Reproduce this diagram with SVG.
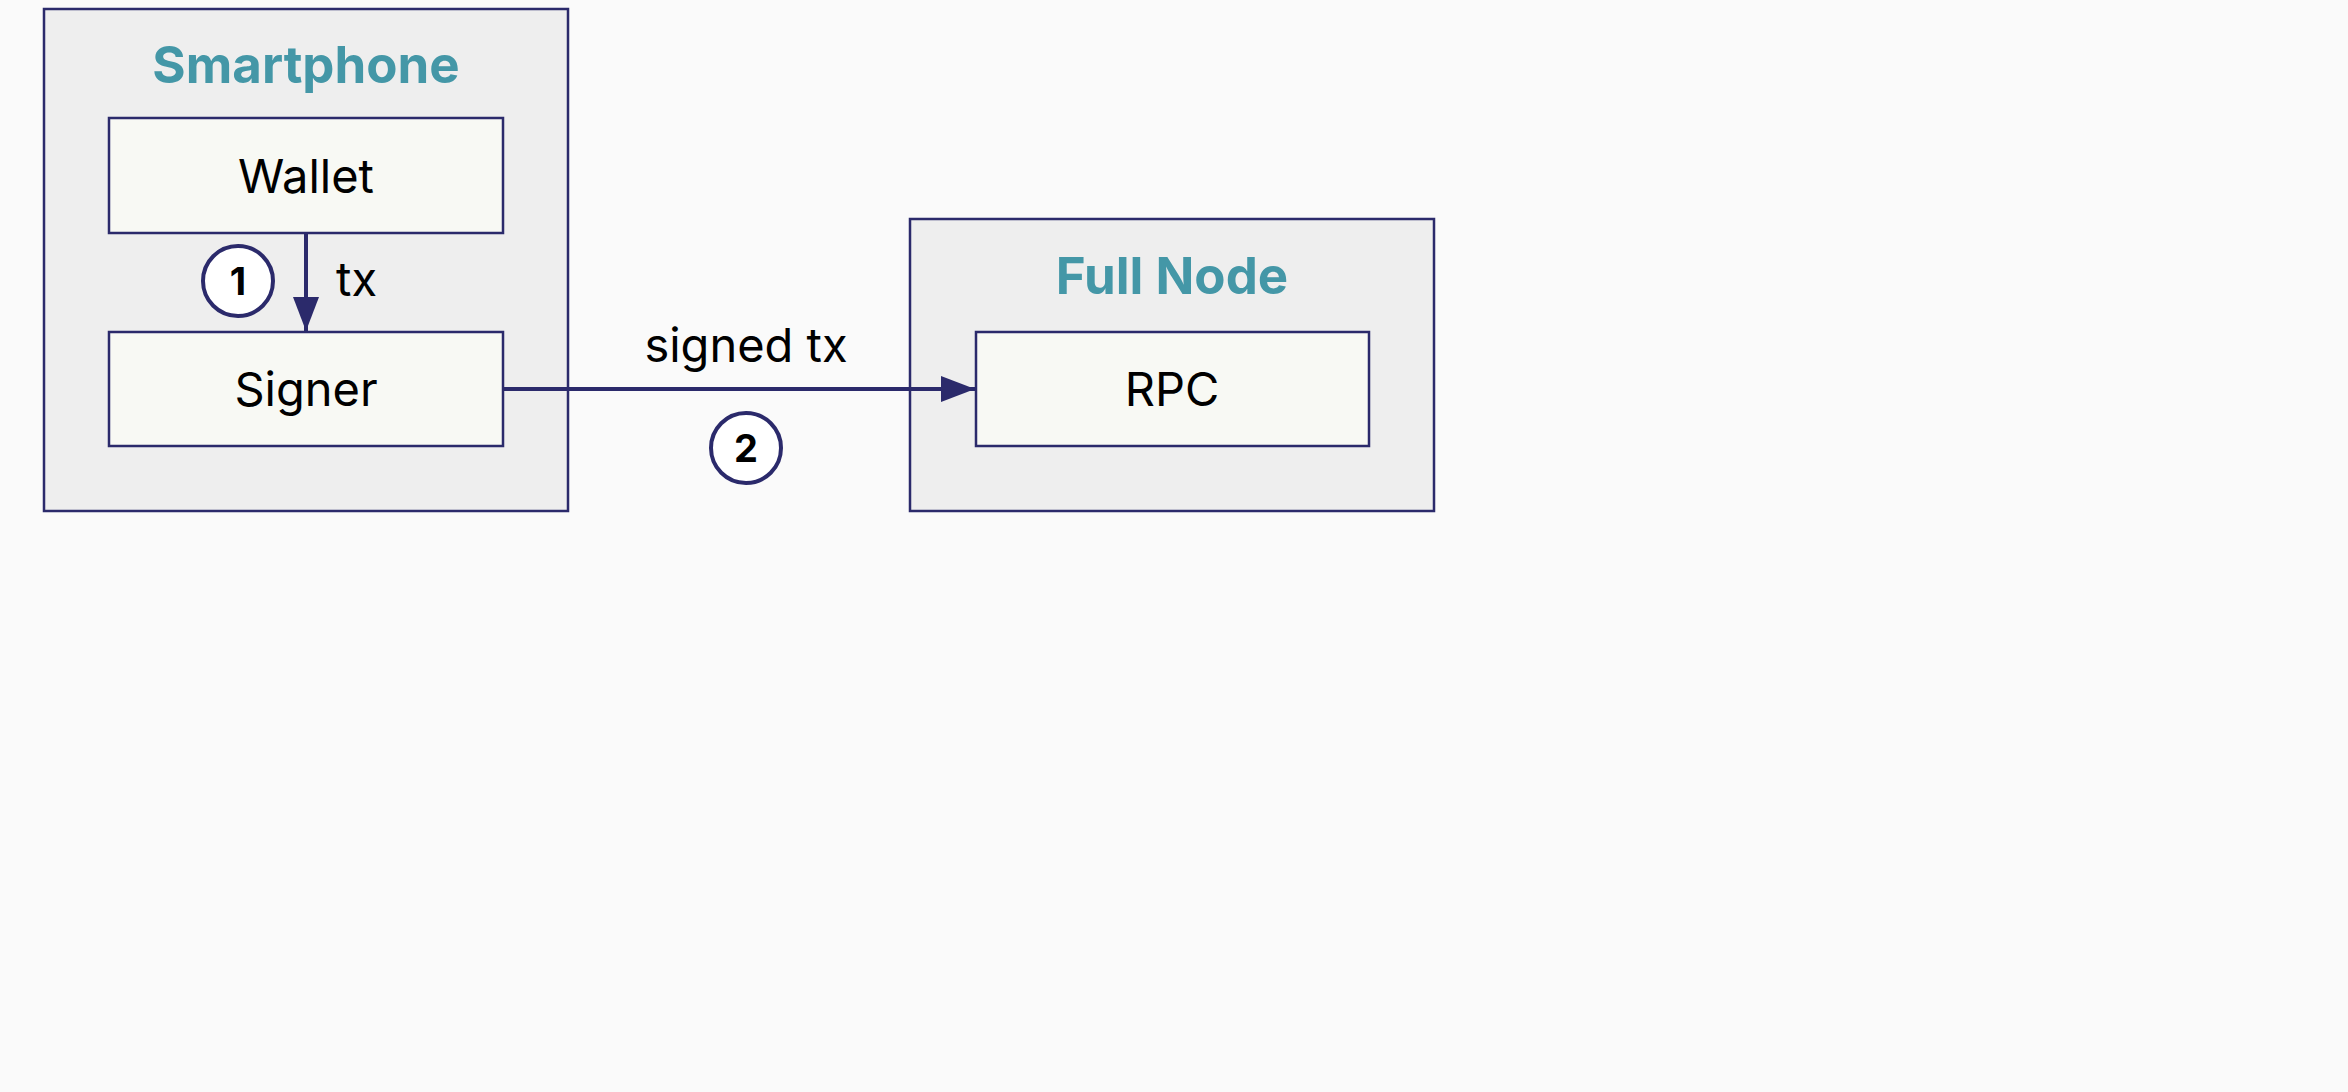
<svg xmlns="http://www.w3.org/2000/svg" width="2348" height="1092" viewBox="0 0 2348 1092">
<style>
.bg{fill:#fafafa}
.group{fill:#eeeeee;stroke:#2b2a6b;stroke-width:2.5}
.box{fill:#f8f9f4;stroke:#2b2a6b;stroke-width:2.5}
.title{font-family:Inter,"Liberation Sans",sans-serif;font-weight:700;font-size:51px;fill:#4497a7;text-anchor:middle}
.label{font-family:Inter,"Liberation Sans",sans-serif;font-size:47px;fill:#000;text-anchor:middle}
.elabel{font-family:Inter,"Liberation Sans",sans-serif;font-size:47px;fill:#000}
.badge{fill:#fff;stroke:#2b2a6b;stroke-width:4}
.num{font-family:Inter,"Liberation Sans",sans-serif;font-weight:700;font-size:38px;fill:#000;text-anchor:middle}
.edge{stroke:#2b2a6b;stroke-width:4;fill:none}
</style>
<defs>
<marker id="arrow" markerUnits="userSpaceOnUse" markerWidth="36" markerHeight="26" refX="34" refY="13" orient="auto">
<path d="M0,0 L34,13 L0,26 Z" fill="#2b2a6b"/>
</marker>
</defs>
<rect class="bg" x="0" y="0" width="2348" height="1092"/>
<g id="smartphone">
<rect class="group" x="44" y="9" width="524" height="502"/>
<text class="title" x="306" y="83">Smartphone</text>
</g>
<g id="fullnode">
<rect class="group" x="910" y="219" width="524" height="292"/>
<text class="title" x="1172" y="294">Full Node</text>
</g>
<g id="wallet">
<rect class="box" x="109" y="118" width="394" height="115"/>
<text class="label" x="306" y="193">Wallet</text>
</g>
<g id="signer">
<rect class="box" x="109" y="332" width="394" height="114"/>
<text class="label" x="306" y="406">Signer</text>
</g>
<g id="rpc">
<rect class="box" x="976" y="332" width="393" height="114"/>
<text class="label" x="1172" y="406">RPC</text>
</g>
<g id="connectors">
<line class="edge" x1="306" y1="234" x2="306" y2="331" marker-end="url(#arrow)"/>
<line class="edge" x1="503" y1="389" x2="975" y2="389" marker-end="url(#arrow)"/>
<text class="elabel" x="336" y="296">tx</text>
<text class="label" x="746" y="362">signed tx</text>
<g id="badge1">
<circle class="badge" cx="238" cy="281" r="35"/>
<text class="num" x="238" y="295">1</text>
</g>
<g id="badge2">
<circle class="badge" cx="746" cy="448" r="35"/>
<text class="num" x="746" y="462">2</text>
</g>
</g>
</svg>
